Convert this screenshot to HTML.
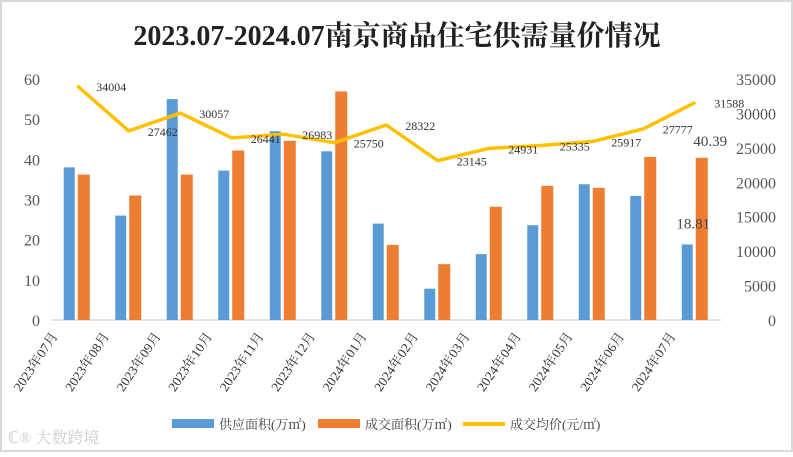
<!DOCTYPE html>
<html><head><meta charset="utf-8"><style>
body{margin:0;background:#fff}
svg text{font-family:"Liberation Serif","Noto Serif CJK SC",serif}
</style></head><body>
<svg width="793" height="452" viewBox="0 0 793 452">
<rect x="1" y="1" width="791" height="450" fill="#fff" stroke="#d9d9d9" stroke-width="2"/>
<text x="397" y="45" text-anchor="middle" font-size="28" font-weight="bold" fill="#222">2023.07-2024.07南京商品住宅供需量价情况</text>
<g id="g"></g>
<g>
<rect x="172" y="419" width="42" height="9" fill="#5b9bd5"/>
<text x="219" y="429" font-size="13" fill="#444">供应面积(万㎡)</text>
<rect x="318" y="419" width="42" height="9" fill="#ed7d31"/>
<text x="365" y="429" font-size="13" fill="#444">成交面积(万㎡)</text>
<line x1="463" y1="424" x2="505" y2="424" stroke="#ffc000" stroke-width="4"/>
<text x="510" y="429" font-size="13" fill="#444">成交均价(元/㎡)</text>
</g>
<text x="8" y="443" font-size="16" fill="#ccc" font-family="Liberation Sans,Noto Sans CJK SC,sans-serif">ℂ® 大数跨境</text>
</svg>
<script>
const categories=["2023年07月","2023年08月","2023年09月","2023年10月","2023年11月","2023年12月","2024年01月","2024年02月","2024年03月","2024年04月","2024年05月","2024年06月","2024年07月"];
const supply=[38,26,55,37.2,47,42,24,7.8,16.4,23.6,33.8,30.9,18.81];
const deal=[36.2,31,36.2,42.2,44.6,56.9,18.7,13.9,28.2,33.4,32.9,40.6,40.39];
const price=[34004,27462,30057,26441,26983,25750,28322,23145,24931,25335,25917,27777,31588];
const leftTicks=[0,10,20,30,40,50,60];
const rightTicks=[0,5000,10000,15000,20000,25000,30000,35000];
const NS="http://www.w3.org/2000/svg",g=document.getElementById('g');
const x0=51.5,band=51.5,yb=320,yt=79;
const yL=v=>yb-(v/60)*(yb-yt), yR=v=>yb-(v/35000)*(yb-yt), xc=i=>x0+band*(i+0.5);
function mk(t,a){const e=document.createElementNS(NS,t);for(const k in a)e.setAttribute(k,a[k]);g.appendChild(e);return e;}
leftTicks.forEach(v=>{const e=mk('text',{x:40,y:yL(v)+6,'text-anchor':'end','font-size':16,fill:'#555'});e.textContent=v;

});
rightTicks.forEach(v=>{const e=mk('text',{x:776,y:yR(v)+6,'text-anchor':'end','font-size':16,fill:'#555'});e.textContent=v;

});
const ax=mk('line',{x1:x0,y1:yb,x2:x0+band*13,y2:yb,stroke:'#d9d9d9','stroke-width':1.5});


categories.forEach((c,i)=>{
 const b=mk('rect',{x:xc(i)-13.5,y:yL(supply[i]),width:11,height:yb-yL(supply[i]),fill:'#5b9bd5'});
 
 
 const o=mk('rect',{x:xc(i)+0.5,y:yL(deal[i]),width:12,height:yb-yL(deal[i]),fill:'#ed7d31'});
 
 
 const t=mk('text',{transform:`translate(${xc(i)-19},${yb+16}) rotate(-56)`,'text-anchor':'end','font-size':13,textLength:68,lengthAdjust:'spacingAndGlyphs',fill:'#333'});t.textContent=c;
 
 
});
const pl=mk('polyline',{points:price.map((v,i)=>xc(i)+','+yR(v)).join(' '),fill:'none',stroke:'#ffc000','stroke-width':3.5,'stroke-linejoin':'round'});


price.forEach((v,i)=>{const t=mk('text',{x:xc(i)+19,y:yR(v)+5,'font-size':12,fill:'#333'});t.textContent=v;

});
const l1=mk('text',{x:xc(12)-2,y:yL(supply[12])-16,'text-anchor':'middle','font-size':15,fill:'#444'});l1.textContent=supply[12];


const l2=mk('text',{x:xc(12)+15,y:yL(deal[12])-12,'text-anchor':'middle','font-size':15,fill:'#444'});l2.textContent=deal[12];


</script>
</body></html>
